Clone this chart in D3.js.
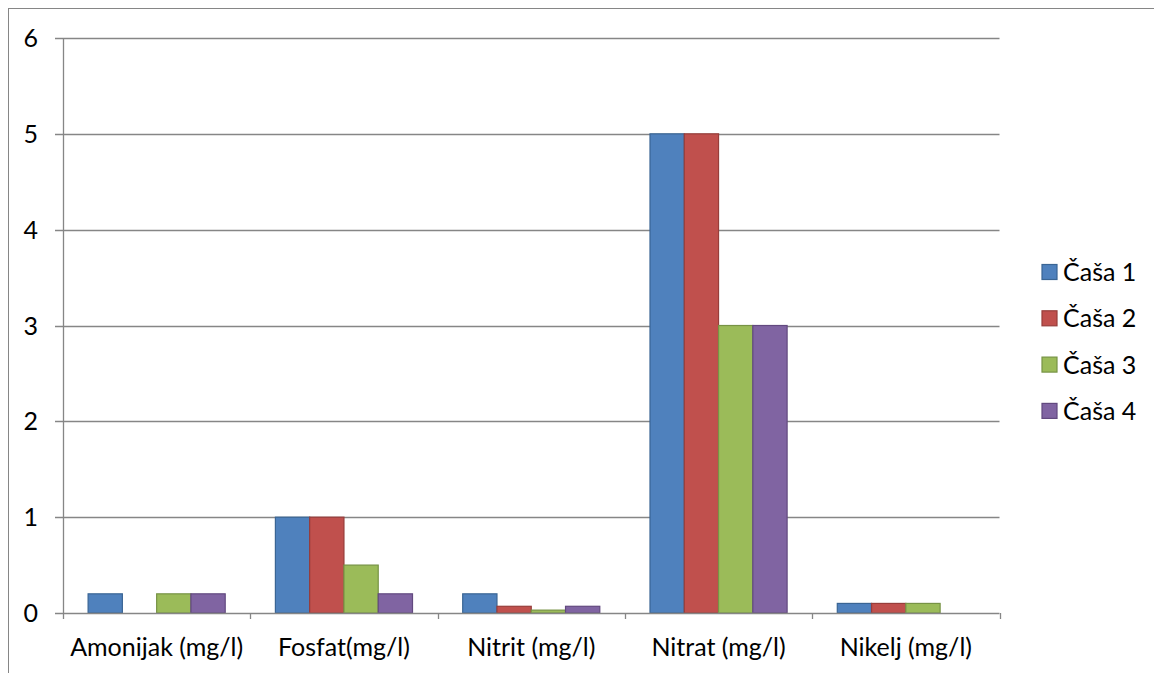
<!DOCTYPE html>
<html><head><meta charset="utf-8">
<script src="https://cdn.jsdelivr.net/npm/d3@7"></script>
<style>body{margin:0;background:#fff}svg{display:block}text{font-family:Lato,"Open Sans",sans-serif;}</style>
</head><body>
<svg id="c" width="1154" height="673"></svg>
<script>
const categories = ["Amonijak (mg/l)", "Fosfat(mg/l)", "Nitrit (mg/l)", "Nitrat (mg/l)", "Nikelj (mg/l)"];
const seriesNames = ["Čaša 1", "Čaša 2", "Čaša 3", "Čaša 4"];
const casa1 = [0.2, 1, 0.2, 5, 0.1];
const casa2 = [null, 1, 0.07, 5, 0.1];
const casa3 = [0.2, 0.5, 0.03, 3, 0.1];
const casa4 = [0.2, 0.2, 0.07, 3, null];
const yTicks = [0, 1, 2, 3, 4, 5, 6];
const fills = ["#4F81BD", "#C0504D", "#9BBB59", "#8064A2"];
const strokes = ["#3A6594", "#973D3A", "#779345", "#62497F"];

const series = [casa1, casa2, casa3, casa4];
const svg = d3.select("#c");
const L = 63, R = 999.5, T = 38, B = 613;
const FS = 25;

svg.append("rect").attr("x", 8.5).attr("y", 8.5).attr("width", 1160).attr("height", 680)
  .attr("fill", "none").attr("stroke", "#868686").attr("stroke-width", 1);

const y = d3.scaleLinear().domain([0, 6]).range([B, T]);
const x0 = d3.scaleBand().domain(categories).range([L, R]).padding(0);
const gap = x0.bandwidth() * 0.134;
const x1 = d3.scaleBand().domain(d3.range(4)).range([gap, x0.bandwidth() - gap]).padding(0);

// gridlines
svg.append("g").selectAll("line").data(yTicks.filter(d => d > 0)).join("line")
  .attr("x1", L - 8).attr("x2", R).attr("y1", d => Math.round(y(d)) + 0.5).attr("y2", d => Math.round(y(d)) + 0.5)
  .attr("stroke", "#868686").attr("stroke-width", 1.3);

// bars
categories.forEach((c, ci) => {
  series.forEach((s, si) => {
    const v = s[ci];
    if (v == null) return;
    svg.append("rect")
      .attr("x", x0(c) + x1(si))
      .attr("y", y(v))
      .attr("width", x1.bandwidth())
      .attr("height", y(0) - y(v))
      .attr("fill", fills[si])
      .attr("stroke", strokes[si]).attr("stroke-width", 1.2);
  });
});

// y axis line
svg.append("line").attr("x1", L + 0.5).attr("x2", L + 0.5).attr("y1", T).attr("y2", B + 6)
  .attr("stroke", "#868686").attr("stroke-width", 1.3);
// x axis line
svg.append("line").attr("x1", L - 8).attr("x2", R).attr("y1", B + 0.5).attr("y2", B + 0.5)
  .attr("stroke", "#868686").attr("stroke-width", 1.3);
// x ticks at category boundaries
const bounds = categories.map(c => x0(c)).concat([R]);
svg.append("g").selectAll("line").data(bounds.slice(1)).join("line")
  .attr("x1", d => Math.round(d) + 0.5).attr("x2", d => Math.round(d) + 0.5)
  .attr("y1", B).attr("y2", B + 6).attr("stroke", "#868686").attr("stroke-width", 1.3);

// y labels
svg.append("g").selectAll("text").data(yTicks).join("text")
  .attr("x", 38).attr("y", d => y(d)).attr("dy", "0.36em").attr("text-anchor", "end")
  .attr("font-size", FS).attr("fill", "#000").text(d => d);

// x labels
svg.append("g").selectAll("text").data(categories).join("text")
  .attr("x", d => x0(d) + x0.bandwidth() / 2).attr("y", 656).attr("text-anchor", "middle")
  .attr("font-size", FS).attr("fill", "#000").text(d => d);

// legend
const lg = svg.append("g");
seriesNames.forEach((n, i) => {
  const cy = 272 + i * 46.3;
  lg.append("rect").attr("x", 1042).attr("y", cy - 7.5).attr("width", 15).attr("height", 15)
    .attr("fill", fills[i]).attr("stroke", strokes[i]).attr("stroke-width", 1.2);
  lg.append("text").attr("x", 1063).attr("y", cy).attr("dy", "0.36em")
    .attr("font-size", FS).attr("fill", "#000").text(n);
});
</script>
</body></html>
